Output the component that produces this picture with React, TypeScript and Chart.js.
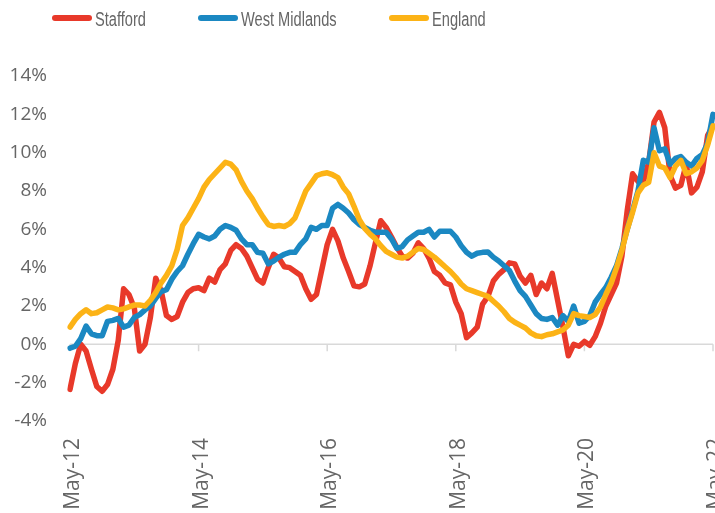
import React, { useEffect, useRef } from "react";
import { Chart, registerables } from "chart.js";

Chart.register(...registerables);

// ---- categories (monthly, May-12 .. May-22) ----
const MONTH_NAMES = ["Jan", "Feb", "Mar", "Apr", "May", "Jun", "Jul", "Aug", "Sep", "Oct", "Nov", "Dec"];
const FIRST_MONTH = 4; // May
const FIRST_YEAR = 12;
const N_MONTHS = 121;
const categories: string[] = Array.from({ length: N_MONTHS }, (_, i) => {
  const m = (FIRST_MONTH + i) % 12;
  const y = FIRST_YEAR + Math.floor((FIRST_MONTH + i) / 12);
  return `${MONTH_NAMES[m]}-${y}`;
});
const LABEL_EVERY = 24;

// ---- y axis ----
const Y_MIN = -4;
const Y_MAX = 14;
const Y_STEP = 2;

// ---- series (annual % change) ----
const seriesNames = ["Stafford", "West Midlands", "England"];
const seriesColors = ["#E8392A", "#1B88C2", "#FCB316"];

const stafford = [
  -2.35, -1.0, 0.0, -0.35, -1.3, -2.2, -2.45, -2.1, -1.3, 0.2, 2.9, 2.6,
  1.9, -0.35, 0.0, 1.4, 3.45, 2.8, 1.5, 1.3, 1.45, 2.2, 2.7, 2.9,
  2.95, 2.8, 3.45, 3.25, 3.9, 4.2, 4.9, 5.2, 5.0, 4.6, 4.0, 3.4,
  3.2, 4.0, 4.7, 4.5, 4.05, 4.0, 3.8, 3.6, 2.9, 2.35, 2.6, 3.9,
  5.2, 6.0, 5.4, 4.5, 3.8, 3.05, 3.0, 3.15, 4.1, 5.3, 6.45, 6.1,
  5.6, 5.05, 4.6, 4.5, 4.75, 5.3, 5.0, 4.5, 3.8, 3.6, 3.2, 3.1,
  2.2, 1.6, 0.35, 0.6, 0.9, 2.1, 2.5, 3.3, 3.65, 3.9, 4.25, 4.2,
  3.56, 3.2, 3.6, 2.6, 3.2, 2.9, 3.7, 2.3, 0.9, -0.6, 0.0, -0.1,
  0.15, -0.05, 0.4, 1.1, 2.0, 2.6, 3.2, 4.6, 7.0, 8.9, 8.5, 8.5,
  9.5, 11.6, 12.1, 11.3, 8.8, 8.15, 8.3, 9.4, 7.9, 8.2, 9.0, 10.9,
  11.4,
];

const westMidlands = [
  -0.2, -0.1, 0.3, 0.95, 0.55, 0.45, 0.45, 1.2, 1.25, 1.35, 0.9, 1.0,
  1.4, 1.55, 1.8, 2.0, 2.4, 2.75, 2.85, 3.4, 3.8, 4.1, 4.7, 5.25,
  5.74, 5.6, 5.5, 5.65, 6.0, 6.2, 6.1, 5.95, 5.5, 5.2, 5.2, 4.8,
  4.75, 4.2, 4.35, 4.55, 4.7, 4.8, 4.8, 5.2, 5.5, 6.1, 6.0, 6.2,
  6.2, 7.1, 7.3, 7.1, 6.85, 6.5, 6.25, 6.1, 5.95, 5.85, 5.85, 5.85,
  5.5, 5.0, 5.1, 5.45, 5.65, 5.85, 5.85, 6.0, 5.6, 5.9, 5.9, 5.9,
  5.6, 5.15, 4.8, 4.6, 4.75, 4.8, 4.82, 4.55, 4.35, 4.1, 3.85, 3.3,
  2.8, 2.5, 2.05, 1.6, 1.35, 1.3, 1.4, 1.0, 1.5, 1.2, 2.0, 1.1,
  1.2, 1.5, 2.2, 2.6, 2.97, 3.5, 4.1, 5.0, 6.0, 7.0, 8.0, 9.6,
  9.5, 11.3, 10.1, 10.2, 9.4, 9.7, 9.8, 9.5, 9.3, 9.7, 9.9, 10.5,
  12.0,
];

const england = [
  0.9, 1.3, 1.6, 1.8, 1.6, 1.65, 1.8, 1.95, 1.9, 1.8, 1.85, 1.95,
  2.05, 2.05, 2.0, 2.3, 2.7, 3.2, 3.6, 4.1, 4.95, 6.2, 6.6, 7.1,
  7.6, 8.2, 8.6, 8.9, 9.2, 9.5, 9.4, 9.1, 8.5, 8.0, 7.6, 7.1,
  6.65, 6.25, 6.15, 6.2, 6.15, 6.3, 6.6, 7.3, 8.0, 8.4, 8.8, 8.9,
  8.95, 8.85, 8.7, 8.2, 7.85, 7.2, 6.5, 6.05, 5.75, 5.5, 5.15, 4.85,
  4.7, 4.55, 4.5, 4.6, 4.8, 5.0, 4.95, 4.75, 4.55, 4.3, 4.05, 3.8,
  3.5, 3.15, 2.9, 2.8, 2.7, 2.6, 2.5, 2.25, 2.0, 1.7, 1.35, 1.15,
  1.0, 0.85, 0.6, 0.45, 0.4, 0.5, 0.55, 0.65, 0.75, 1.0, 1.6, 1.5,
  1.45, 1.4, 1.55, 1.95, 2.6, 3.2, 4.0, 4.9, 6.0, 6.9, 7.9, 8.3,
  8.45, 10.0, 9.3, 9.2, 8.7, 9.3, 9.6, 8.9, 9.0, 9.2, 9.6, 10.4,
  11.4,
];

const seriesData = [stafford, westMidlands, england];

const TEXT_COLOR = "#666666";
const AXIS_FONT = '"Open Sans", "DejaVu Sans", sans-serif';

// zero line, tick marks on it, and the legend
const decorPlugin = {
  id: "decor",
  beforeDatasetsDraw(chart: any) {
    const { ctx, chartArea, scales } = chart;
    const y0 = scales.y.getPixelForValue(0);
    ctx.save();
    ctx.strokeStyle = "#d9d9d9";
    ctx.lineWidth = 1.5;
    ctx.beginPath();
    ctx.moveTo(chartArea.left, y0);
    ctx.lineTo(chartArea.right, y0);
    for (let i = 0; i < categories.length; i += LABEL_EVERY) {
      const x = scales.x.getPixelForValue(i);
      ctx.moveTo(x, y0);
      ctx.lineTo(x, y0 + 7);
    }
    ctx.stroke();
    ctx.restore();
  },
  afterDraw(chart: any) {
    const { ctx } = chart;
    const starts = [52, 198, 389];
    const lineLen = 40;
    const cy = 18;
    ctx.save();
    seriesNames.forEach((name, k) => {
      const x0 = starts[k];
      ctx.strokeStyle = seriesColors[k];
      ctx.lineWidth = 6;
      ctx.lineCap = "round";
      ctx.beginPath();
      ctx.moveTo(x0 + 3, cy);
      ctx.lineTo(x0 + lineLen - 3, cy);
      ctx.stroke();
      ctx.save();
      ctx.translate(x0 + lineLen + 3, 25.5);
      ctx.scale(0.75, 1);
      ctx.font = '19.5px "Liberation Sans", Arial, sans-serif';
      ctx.fillStyle = TEXT_COLOR;
      ctx.textBaseline = "alphabetic";
      ctx.textAlign = "left";
      ctx.fillText(name, 0, 0);
      ctx.restore();
    });
    ctx.restore();
  },
};

export default function App() {
  const canvasRef = useRef<HTMLCanvasElement | null>(null);

  useEffect(() => {
    const canvas = canvasRef.current;
    if (!canvas) return;
    const order = [3, 2, 1];
    const chart = new Chart(canvas, {
      type: "line",
      data: {
        labels: categories,
        datasets: seriesNames.map((name, k) => ({
          label: name,
          data: seriesData[k],
          borderColor: seriesColors[k],
          backgroundColor: seriesColors[k],
          borderWidth: 5.5,
          pointRadius: 0,
          tension: 0,
          fill: false,
          order: order[k],
          borderCapStyle: "round",
          borderJoinStyle: "round",
        })),
      },
      options: {
        responsive: false,
        animation: false,
        devicePixelRatio: 1,
        layout: { padding: { top: 76, right: 2, left: 0, bottom: 0 } },
        plugins: {
          legend: { display: false },
          tooltip: { enabled: false },
        },
        scales: {
          x: {
            type: "category",
            offset: false,
            grid: { display: false, drawTicks: false },
            border: { display: false },
            ticks: {
              autoSkip: false,
              maxRotation: 90,
              minRotation: 90,
              padding: 17,
              labelOffset: 3,
              color: TEXT_COLOR,
              font: { family: AXIS_FONT, size: 21 },
              callback: (_v: any, i: number) => (i % LABEL_EVERY === 0 ? categories[i] : ""),
            },
            afterFit(s: any) {
              s.height = 92;
              s.paddingLeft = 0;
              s.paddingRight = 0;
            },
          },
          y: {
            min: Y_MIN,
            max: Y_MAX,
            grid: { display: false, drawTicks: false },
            border: { display: false },
            ticks: {
              stepSize: Y_STEP,
              padding: 23,
              color: TEXT_COLOR,
              font: { family: AXIS_FONT, size: 19 },
              callback: (v: any) => `${v}%`,
            },
            afterFit(s: any) {
              s.width = 70;
              s.paddingTop = 0;
              s.paddingBottom = 0;
            },
          },
        },
      },
      plugins: [decorPlugin],
    } as any);
    return () => chart.destroy();
  }, []);

  return (
    <div style={{ position: "absolute", left: 0, top: 0, width: 715, height: 513, overflow: "hidden" }}>
      <canvas ref={canvasRef} width={715} height={513} style={{ display: "block" }} />
    </div>
  );
}
